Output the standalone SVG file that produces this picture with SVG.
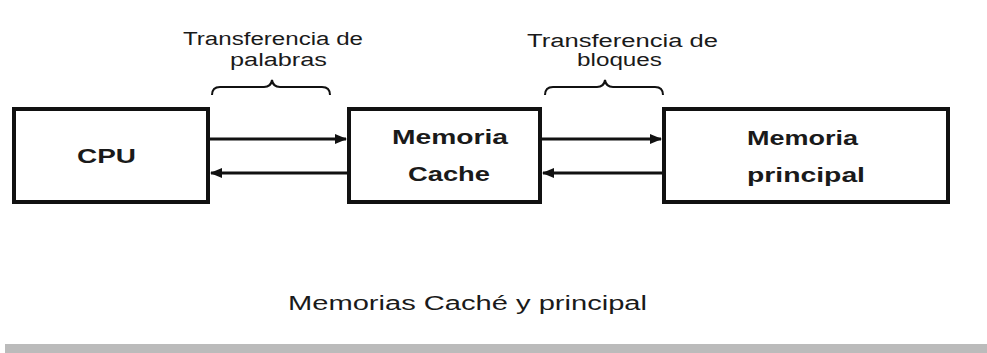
<svg xmlns="http://www.w3.org/2000/svg" width="987" height="353" viewBox="0 0 987 353">
<style>
.box{fill:#fff;stroke:#111;stroke-width:4}
.lbl{font-family:"Liberation Sans",Arial,sans-serif;font-size:18px;fill:#1a1a1a;text-anchor:middle}
.bt{font-family:"Liberation Sans",Arial,sans-serif;font-size:20px;font-weight:bold;fill:#1a1a1a;text-anchor:middle}
.cap{font-family:"Liberation Sans",Arial,sans-serif;font-size:20px;fill:#1a1a1a;text-anchor:middle}
.ln{stroke:#111;stroke-width:3;fill:none}
.br{stroke:#111;stroke-width:2;fill:none}
</style>
<defs>
<marker id="ah" markerWidth="12" markerHeight="10" refX="11" refY="5" orient="auto" markerUnits="userSpaceOnUse">
<path d="M0,0 L12,5 L0,10 Z" fill="#111"/>
</marker>
</defs>
<rect width="987" height="353" fill="#fff"/>
<g id="cpu">
<rect class="box" x="14" y="109" width="194" height="93"/>
<text class="bt" x="106.5" y="163" textLength="59" lengthAdjust="spacingAndGlyphs">CPU</text>
</g>
<g id="cache">
<rect class="box" x="349" y="109" width="191" height="93"/>
<text class="bt" x="450" y="144" textLength="116" lengthAdjust="spacingAndGlyphs">Memoria</text>
<text class="bt" x="449" y="181" textLength="82" lengthAdjust="spacingAndGlyphs">Cache</text>
</g>
<g id="main">
<rect class="box" x="664" y="109" width="284" height="93"/>
<text class="bt" x="802.5" y="145" textLength="111" lengthAdjust="spacingAndGlyphs">Memoria</text>
<text class="bt" x="806" y="182" textLength="118" lengthAdjust="spacingAndGlyphs">principal</text>
</g>
<g id="connectors">
<line class="ln" x1="210" y1="139" x2="346" y2="139" marker-end="url(#ah)"/>
<line class="ln" x1="347" y1="173" x2="211" y2="173" marker-end="url(#ah)"/>
<line class="ln" x1="542" y1="139" x2="661" y2="139" marker-end="url(#ah)"/>
<line class="ln" x1="662" y1="173" x2="543" y2="173" marker-end="url(#ah)"/>
</g>
<g id="brace-palabras">
<path class="br" d="M212,95 Q212,87 220,87 L264,87 Q271,87 272,80 Q273,87 280,87 L322,87 Q330,87 330,95"/>
<text class="lbl" x="273" y="45" textLength="180" lengthAdjust="spacingAndGlyphs">Transferencia de</text>
<text class="lbl" x="278.5" y="66" textLength="97" lengthAdjust="spacingAndGlyphs">palabras</text>
</g>
<g id="brace-bloques">
<path class="br" d="M545,95 Q545,87 553,87 L597,87 Q604,87 605,80 Q606,87 613,87 L655,87 Q663,87 663,95"/>
<text class="lbl" x="622.5" y="47" textLength="191" lengthAdjust="spacingAndGlyphs">Transferencia de</text>
<text class="lbl" x="619.5" y="66" textLength="85" lengthAdjust="spacingAndGlyphs">bloques</text>
</g>
<text class="cap" x="467.5" y="310" textLength="359" lengthAdjust="spacingAndGlyphs">Memorias Caché y principal</text>
<rect x="5" y="344" width="982" height="9" fill="#bbbbbb"/>
</svg>
